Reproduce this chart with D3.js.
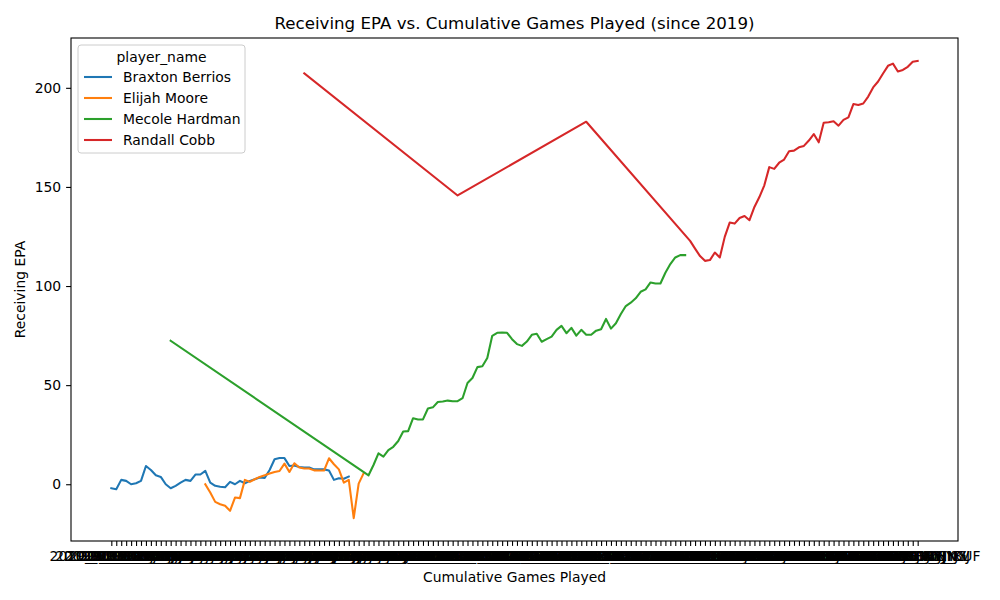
<!DOCTYPE html>
<html>
<head>
<meta charset="utf-8">
<script src="https://cdn.jsdelivr.net/npm/d3@7"></script>
<style>
  body { margin: 0; background: #fff; }
  svg text { font-family: "DejaVu Sans", sans-serif; fill: #000; }
</style>
</head>
<body>
<svg id="chart" width="1000" height="600"></svg>
<script>
// game ids per player, in the order they were plotted
const berriosGames = [
  "2019_01_BUF_NYJ", "2019_02_CLE_NYJ", "2019_03_NYJ_NE", "2019_05_NYJ_PHI", "2019_06_DAL_NYJ",
  "2019_07_NE_NYJ", "2019_08_NYJ_JAX", "2019_09_NYJ_MIA", "2019_10_NYG_NYJ", "2019_11_NYJ_WAS",
  "2019_12_OAK_NYJ", "2020_07_BUF_NYJ", "2020_08_NYJ_KC", "2020_09_NE_NYJ", "2020_11_NYJ_LAC",
  "2020_12_MIA_NYJ", "2020_13_LV_NYJ", "2020_14_NYJ_SEA", "2020_15_NYJ_LA",
  "2021_01_NYJ_CAR", "2021_02_NE_NYJ", "2021_03_NYJ_DEN", "2021_04_TEN_NYJ", "2021_05_NYJ_ATL",
  "2021_07_NYJ_NE", "2021_08_CIN_NYJ", "2021_09_NYJ_IND", "2021_10_BUF_NYJ", "2021_11_MIA_NYJ",
  "2021_12_NYJ_HOU", "2021_13_PHI_NYJ", "2021_14_NYJ_NO", "2021_15_NYJ_MIA", "2021_16_JAX_NYJ",
  "2021_17_TB_NYJ", "2021_18_NYJ_BUF", "2022_02_NYJ_CLE", "2022_03_CIN_NYJ", "2022_05_MIA_NYJ",
  "2022_06_NYJ_GB", "2022_07_NYJ_DEN", "2022_08_NE_NYJ", "2022_09_BUF_NYJ", "2022_11_NYJ_NE",
  "2022_12_CHI_NYJ", "2022_13_NYJ_MIN", "2022_14_NYJ_BUF", "2022_15_DET_NYJ", "2022_16_JAX_NYJ"
];
const berriosEPA = [
  -2.0, -2.5, 2.2, 1.7, 0.0, 0.5, 1.7, 9.2, 7.2, 4.5,
  3.7, 0.0, -2.0, -0.8, 0.8, 2.2, 1.7, 4.9, 4.9, 6.7,
  0.8, -0.8, -1.3, -1.5, 1.2, 0.0, 1.7, 0.5, 1.7, 2.5,
  3.4, 3.2, 7.2, 12.6, 13.2, 13.2, 9.2, 9.5, 8.7, 8.4,
  8.4, 7.5, 7.5, 7.5, 6.9, 2.2, 3.0, 2.8, 3.9
];

const mooreGames = [
  "2021_01_NYJ_CAR", "2021_02_NE_NYJ", "2021_03_NYJ_DEN", "2021_04_TEN_NYJ", "2021_05_NYJ_ATL",
  "2021_07_NYJ_NE", "2021_08_CIN_NYJ", "2021_09_NYJ_IND", "2021_10_BUF_NYJ", "2021_11_MIA_NYJ",
  "2021_12_NYJ_HOU", "2021_13_PHI_NYJ", "2021_14_NYJ_NO", "2021_15_NYJ_MIA", "2021_16_JAX_NYJ",
  "2021_17_TB_NYJ", "2021_18_NYJ_BUF", "2022_02_NYJ_CLE", "2022_03_CIN_NYJ", "2022_05_MIA_NYJ",
  "2022_06_NYJ_GB", "2022_07_NYJ_DEN", "2022_08_NE_NYJ", "2022_09_BUF_NYJ", "2022_11_NYJ_NE",
  "2022_12_CHI_NYJ", "2022_13_NYJ_MIN", "2022_14_NYJ_BUF", "2022_15_DET_NYJ", "2022_16_JAX_NYJ",
  "2023_01_CIN_CLE", "2023_02_CLE_PIT", "2023_03_TEN_CLE"
];
const mooreEPA = [
  0.0, -4.2, -8.9, -10.1, -10.9, -13.4, -6.7, -7.0, 2.2, 1.2,
  2.5, 3.7, 4.5, 5.4, 6.2, 6.7, 10.4, 6.2, 10.6, 8.4,
  7.9, 7.9, 7.0, 6.9, 6.9, 13.1, 10.1, 7.5, 0.8, 2.2,
  -17.1, 0.3, 5.5
];

const hardmanGames = [
  "2020_08_NYJ_KC",
  "2019_01_KC_JAX", "2019_02_KC_OAK", "2019_03_BAL_KC", "2019_04_KC_DET", "2019_05_IND_KC",
  "2019_06_HOU_KC", "2019_07_KC_DEN", "2019_08_GB_KC", "2019_09_MIN_KC", "2019_10_KC_TEN",
  "2019_11_KC_LAC", "2019_13_OAK_KC", "2019_14_KC_NE", "2019_15_DEN_KC", "2019_16_KC_CHI",
  "2019_17_LAC_KC", "2019_19_HOU_KC", "2019_20_TEN_KC",
  "2020_01_HOU_KC", "2020_02_KC_LAC", "2020_03_KC_BAL", "2020_04_NE_KC", "2020_05_LV_KC",
  "2020_06_KC_BUF", "2020_07_KC_DEN", "2020_09_CAR_KC", "2020_11_KC_LV", "2020_12_KC_TB",
  "2020_13_DEN_KC", "2020_14_KC_MIA", "2020_15_KC_NO", "2020_16_ATL_KC", "2020_17_LAC_KC",
  "2020_19_CLE_KC", "2020_20_BUF_KC", "2020_21_KC_TB",
  "2021_01_CLE_KC", "2021_02_KC_BAL", "2021_03_LAC_KC", "2021_04_KC_PHI", "2021_05_BUF_KC",
  "2021_06_KC_WAS", "2021_07_KC_TEN", "2021_08_NYG_KC", "2021_09_GB_KC", "2021_10_KC_LV",
  "2021_11_DAL_KC", "2021_13_DEN_KC", "2021_14_LV_KC", "2021_15_KC_LAC", "2021_16_PIT_KC",
  "2021_17_KC_CIN", "2021_18_KC_DEN", "2021_19_PIT_KC", "2021_20_BUF_KC", "2021_21_CIN_KC",
  "2022_01_KC_ARI", "2022_02_LAC_KC", "2022_03_KC_IND", "2022_04_KC_TB", "2022_05_LV_KC",
  "2022_06_BUF_KC", "2022_07_KC_SF", "2022_09_TEN_KC", "2023_01_BUF_NYJ"
];
const hardmanEPA = [
  72.4,
  4.5, 9.7, 15.6, 13.9, 17.2, 18.9, 21.8, 26.6, 26.8, 33.3,
  32.7, 32.7, 38.2, 38.8, 41.5, 41.7, 42.2, 41.9, 41.9, 43.4,
  51.1, 53.6, 59.1, 59.5, 63.7, 74.9, 76.4, 76.5, 76.4, 73.2,
  70.7, 69.8, 72.0, 75.4, 75.9, 71.9, 73.2, 74.5, 77.9, 79.9,
  76.2, 78.9, 75.0, 77.9, 75.4, 75.4, 77.5, 78.2, 83.4, 78.5,
  81.2, 85.9, 89.9, 91.6, 93.8, 97.1, 98.3, 101.8, 101.3, 101.3,
  106.7, 111.1, 114.4, 115.6, 115.6
];

const cobbGames = [
  "2022_06_NYJ_GB", "2020_01_HOU_KC", "2021_09_GB_KC",
  "2019_01_NYG_DAL", "2019_02_DAL_WAS", "2019_03_MIA_DAL", "2019_04_DAL_NO", "2019_05_GB_DAL",
  "2019_07_PHI_DAL", "2019_09_DAL_NYG", "2019_10_MIN_DAL", "2019_11_DAL_DET", "2019_12_DAL_NE",
  "2019_13_BUF_DAL", "2019_14_DAL_CHI", "2019_15_LA_DAL", "2019_16_DAL_PHI", "2019_17_WAS_DAL",
  "2020_02_BAL_HOU", "2020_03_HOU_PIT", "2020_04_MIN_HOU", "2020_05_JAX_HOU", "2020_06_HOU_TEN",
  "2020_07_GB_HOU", "2020_09_HOU_JAX", "2020_10_HOU_CLE",
  "2021_01_GB_NO", "2021_02_DET_GB", "2021_03_GB_SF", "2021_04_PIT_GB", "2021_05_GB_CIN",
  "2021_06_GB_CHI", "2021_07_WAS_GB", "2021_08_GB_ARI", "2021_10_SEA_GB", "2021_11_GB_MIN",
  "2022_01_GB_MIN", "2022_02_CHI_GB", "2022_03_GB_TB", "2022_04_NE_GB", "2022_05_NYG_GB",
  "2023_02_NYJ_DAL", "2023_03_NE_NYJ", "2023_04_KC_NYJ", "2023_05_NYJ_DEN", "2023_06_PHI_NYJ",
  "2023_08_NYJ_NYG", "2023_09_LAC_NYJ", "2023_10_NYJ_LV", "2023_11_NYJ_BUF"
];
const cobbEPA = [
  207.3, 145.7, 182.9,
  122.8, 118.9, 115.1, 112.7, 113.1, 116.9, 114.4, 124.8, 132.0, 131.5,
  134.3, 135.3, 133.2, 139.9, 144.9, 150.8, 160.0, 159.1, 162.2, 163.8,
  168.0, 168.3, 170.0, 170.7, 173.4, 176.7, 172.5, 182.4, 182.6, 183.1,
  180.9, 183.8, 185.1, 191.8, 191.3, 192.1, 195.6, 200.2, 203.2, 207.2,
  211.1, 212.2, 208.2, 209.0, 210.6, 213.2, 213.6
];

const players = ["Braxton Berrios", "Elijah Moore", "Mecole Hardman", "Randall Cobb"];
const colors = ["#1f77b4", "#ff7f0e", "#2ca02c", "#d62728"];
const yTicks = [0, 50, 100, 150, 200];

const series = [
  { name: players[0], games: berriosGames, epa: berriosEPA },
  { name: players[1], games: mooreGames, epa: mooreEPA },
  { name: players[2], games: hardmanGames, epa: hardmanEPA },
  { name: players[3], games: cobbGames, epa: cobbEPA }
].map((s) => ({ name: s.name, values: s.games.map((g, i) => ({ game: g, epa: s.epa[i] })) }));

// categories in order of first appearance (like a categorical axis)
const categories = [];
const seen = new Set();
series.forEach((s) => s.values.forEach((d) => {
  if (!seen.has(d.game)) { seen.add(d.game); categories.push(d.game); }
}));

// dimensions
const margin = { top: 38, right: 42, bottom: 59, left: 71 };
const width = 1000 - margin.left - margin.right;
const height = 600 - margin.top - margin.bottom;

const root = d3.select("#chart");
const svg = root.append("g").attr("transform", `translate(${margin.left}, ${margin.top})`);

// scales
const x = d3.scalePoint()
  .domain(categories)
  .range([0, width])
  .padding(0.05 * (categories.length - 1));

const allEPA = series.flatMap((s) => s.values.map((d) => d.epa));
const [lo, hi] = d3.extent(allEPA);
const pad = (hi - lo) * 0.05;
const y = d3.scaleLinear().domain([lo - pad, hi + pad]).range([height, 0]);

// axes
const xAxis = svg.append("g")
  .attr("transform", `translate(0, ${height})`)
  .call(d3.axisBottom(x).tickSize(4.9).tickPadding(4.9).tickSizeOuter(0));
xAxis.select(".domain").remove();
xAxis.selectAll("line").attr("stroke", "#000").attr("stroke-width", 1.1);
xAxis.selectAll("text").style("font-size", "13.9px").style("font-family", "DejaVu Sans");

const yAxis = svg.append("g")
  .call(d3.axisLeft(y).tickValues(yTicks).tickSize(4.9).tickPadding(4.9).tickSizeOuter(0));
yAxis.select(".domain").remove();
yAxis.selectAll("line").attr("stroke", "#000").attr("stroke-width", 1.1);
yAxis.selectAll("text").style("font-size", "13.9px").style("font-family", "DejaVu Sans");

// lines
const line = d3.line()
  .x((d) => x(d.game))
  .y((d) => y(d.epa));

svg.selectAll(".series")
  .data(series)
  .enter()
  .append("path")
  .attr("class", "series")
  .attr("fill", "none")
  .attr("stroke", (d, i) => colors[i])
  .attr("stroke-width", 2.08)
  .attr("stroke-linejoin", "round")
  .attr("stroke-linecap", "square")
  .attr("d", (d) => line(d.values));

// frame
svg.append("rect")
  .attr("width", width)
  .attr("height", height)
  .attr("fill", "none")
  .attr("stroke", "#000")
  .attr("stroke-width", 1.1);

// title and labels
root.append("text")
  .attr("x", margin.left + width / 2)
  .attr("y", 28.5)
  .attr("text-anchor", "middle")
  .style("font-size", "16.67px")
  .text("Receiving EPA vs. Cumulative Games Played (since 2019)");

root.append("text")
  .attr("x", margin.left + width / 2)
  .attr("y", 582)
  .attr("text-anchor", "middle")
  .style("font-size", "13.9px")
  .text("Cumulative Games Played");

root.append("text")
  .attr("transform", `translate(25, ${margin.top + height / 2}) rotate(-90)`)
  .attr("text-anchor", "middle")
  .style("font-size", "13.9px")
  .text("Receiving EPA");

// legend
const legend = svg.append("g").attr("transform", "translate(7, 7)");
legend.append("rect")
  .attr("width", 167)
  .attr("height", 108)
  .attr("rx", 3)
  .attr("fill", "#fff")
  .attr("fill-opacity", 0.8)
  .attr("stroke", "#cccccc")
  .attr("stroke-width", 1);

legend.append("text")
  .attr("x", 83.5)
  .attr("y", 17)
  .attr("text-anchor", "middle")
  .style("font-size", "13.9px")
  .text("player_name");

const rows = legend.selectAll(".entry")
  .data(players)
  .enter()
  .append("g")
  .attr("class", "entry")
  .attr("transform", (d, i) => `translate(0, ${32 + i * 21})`);

rows.append("line")
  .attr("x1", 6)
  .attr("x2", 34)
  .attr("stroke", (d, i) => colors[i])
  .attr("stroke-width", 2.08);

rows.append("text")
  .attr("x", 45)
  .attr("y", 5)
  .style("font-size", "13.9px")
  .text((d) => d);
</script>
</body>
</html>
